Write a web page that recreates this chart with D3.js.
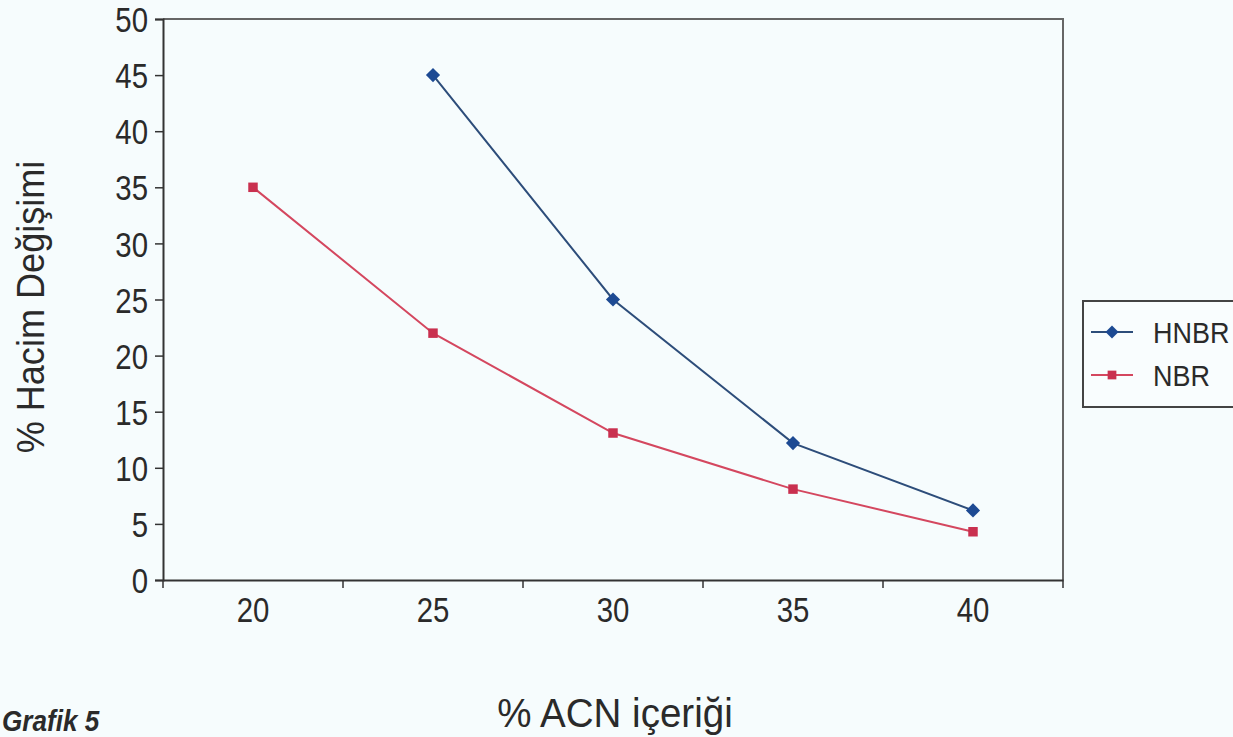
<!DOCTYPE html>
<html>
<head>
<meta charset="utf-8">
<script src="https://cdn.jsdelivr.net/npm/d3@7"></script>
<style>
  html, body { margin: 0; padding: 0; background: #f6fcfd; }
  svg text { font-family: "Liberation Sans", Arial, Helvetica, sans-serif; fill: #2a2a2a; }
</style>
</head>
<body>
<div id="chart"></div>
<script>
// ACN content categories
const categories = ["20", "25", "30", "35", "40"];
// % volume change, null = not measured
const hnbrValues = [null, 45, 25, 12.2, 6.2];
const nbrValues = [35, 22, 13.1, 8.1, 4.3];
const yTicks = [0, 5, 10, 15, 20, 25, 30, 35, 40, 45, 50];

const W = 1233, H = 737;
const m = { left: 163, right: 1063, top: 19, bottom: 580 };
const palette = { blue: "#1d4a93", blueLine: "#2d4d7a", red: "#c9304f", redLine: "#d4475f", axis: "#333", frame: "#666" };
const narrow = 0.84; // squeeze text to look like a condensed face

const svg = d3.select("#chart").append("svg")
  .attr("width", W).attr("height", H);

const x = d3.scaleBand().domain(categories).range([m.left, m.right]);
const y = d3.scaleLinear().domain([0, 50]).range([m.bottom, m.top]);

// frame (top and right)
svg.append("path")
  .attr("d", `M${m.left},${m.top}H${m.right}V${m.bottom}`)
  .attr("fill", "none").attr("stroke", palette.frame).attr("stroke-width", 2);

// y axis
const yAxis = svg.append("g")
  .attr("transform", `translate(${m.left},0)`)
  .call(d3.axisLeft(y).tickValues(yTicks).tickSize(8));
yAxis.select(".domain").attr("stroke", palette.axis).attr("stroke-width", 2);
yAxis.selectAll(".tick line").attr("stroke", palette.axis).attr("stroke-width", 1.5);
yAxis.selectAll("text")
  .attr("x", -15 / narrow)
  .attr("transform", `scale(${narrow},1)`)
  .attr("font-size", 35).attr("dy", "0.36em").attr("fill", "#2a2a2a");

// x axis: category axis with ticks between categories
const xAxis = svg.append("g")
  .attr("transform", `translate(0,${m.bottom})`)
  .call(d3.axisBottom(x).tickSize(0).tickPadding(17));
xAxis.select(".domain").attr("stroke", palette.axis).attr("stroke-width", 2);
xAxis.selectAll("text")
  .attr("transform", `scale(${narrow},1)`)
  .attr("font-size", 35).attr("fill", "#2a2a2a");
const bounds = categories.map(c => x(c)).concat([x(categories[categories.length - 1]) + x.bandwidth()]);
xAxis.selectAll(".sep").data(bounds).enter().append("line")
  .attr("x1", d => d).attr("x2", d => d)
  .attr("y1", 0).attr("y2", 8)
  .attr("stroke", palette.axis).attr("stroke-width", 1.5);

const cx = c => x(c) + x.bandwidth() / 2;

const series = [
  { name: "HNBR", values: hnbrValues, color: palette.blue, line: palette.blueLine, symbol: d3.symbolSquare, size: 100, rot: 45 },
  { name: "NBR", values: nbrValues, color: palette.red, line: palette.redLine, symbol: d3.symbolSquare, size: 90, rot: 0 }
];

const line = d3.line()
  .defined(d => d.v !== null)
  .x(d => cx(d.c))
  .y(d => y(d.v));

series.forEach(s => {
  const pts = categories.map((c, i) => ({ c: c, v: s.values[i] }));
  svg.append("path")
    .datum(pts)
    .attr("d", line)
    .attr("fill", "none")
    .attr("stroke", s.line)
    .attr("stroke-width", 2);
  svg.selectAll(null)
    .data(pts.filter(d => d.v !== null))
    .enter().append("path")
    .attr("d", d3.symbol().type(s.symbol).size(s.size))
    .attr("transform", d => `translate(${cx(d.c)},${y(d.v)}) rotate(${s.rot})`)
    .attr("fill", s.color);
});

// legend
const lg = svg.append("g").attr("transform", "translate(1083,301)");
lg.append("rect")
  .attr("width", 170).attr("height", 106)
  .attr("fill", "#f9fdfe").attr("stroke", "#444").attr("stroke-width", 2);
series.forEach((s, i) => {
  const ly = 31 + i * 43;
  lg.append("line").attr("x1", 8).attr("x2", 50).attr("y1", ly).attr("y2", ly)
    .attr("stroke", s.line).attr("stroke-width", 2);
  lg.append("path")
    .attr("d", d3.symbol().type(s.symbol).size(s.size * 0.85))
    .attr("transform", `translate(29,${ly}) rotate(${s.rot})`)
    .attr("fill", s.color);
  lg.append("text")
    .attr("transform", `translate(70,${ly}) scale(0.9,1)`)
    .attr("dy", "0.36em")
    .attr("font-size", 30).text(s.name);
});

// axis titles
svg.append("text")
  .attr("transform", "translate(44,307) rotate(-90) scale(0.95,1)")
  .attr("text-anchor", "middle")
  .attr("font-size", 38)
  .text("% Hacim Değişimi");

svg.append("text")
  .attr("transform", "translate(615,727) scale(0.94,1)")
  .attr("text-anchor", "middle")
  .attr("font-size", 41)
  .text("% ACN içeriği");

svg.append("text")
  .attr("transform", "translate(2,731) scale(0.9,1)")
  .attr("font-size", 29)
  .attr("font-weight", "bold")
  .attr("font-style", "italic")
  .text("Grafik 5");
</script>
</body>
</html>
